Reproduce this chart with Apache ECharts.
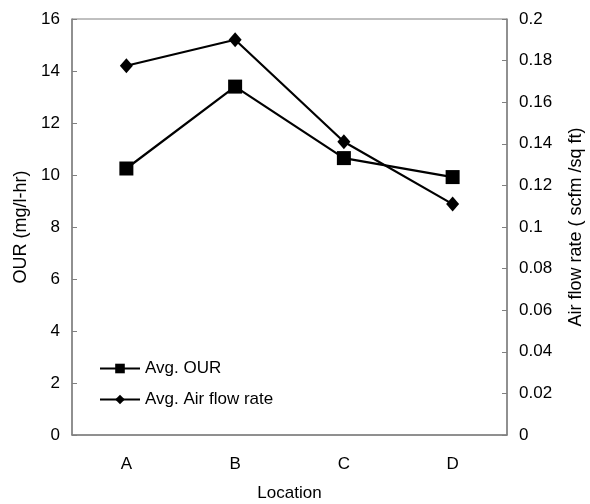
<!DOCTYPE html>
<html>
<head>
<meta charset="utf-8">
<script src="https://cdn.jsdelivr.net/npm/echarts@6/dist/echarts.min.js"></script>
</head>
<body style="margin:0;background:#fff">
<div id="main" style="width:590px;height:504px;"></div>
<script>
var locations = ['A', 'B', 'C', 'D'];
var avgOUR = [10.25, 13.4, 10.65, 9.92];
var avgAirFlow = [0.1775, 0.19, 0.141, 0.111];

var chart = echarts.init(document.getElementById('main'));
var axisGray = '#808080';
var font = 'Liberation Sans';

var option = {
    backgroundColor: '#fff',
    animation: false,
    textStyle: { fontFamily: font },
    grid: {
        left: 72, right: 83, top: 19, bottom: 69,
        outerBoundsMode: 'none',
        containLabel: false,
        show: true, borderColor: axisGray, borderWidth: 1
    },
    legend: {
        orient: 'vertical',
        left: 94, top: 355,
        itemWidth: 40, itemHeight: 12, itemGap: 14,
        textStyle: { fontSize: 17, color: '#000', fontFamily: font },
        data: ['Avg. OUR', 'Avg. Air flow rate']
    },
    xAxis: {
        type: 'category',
        data: locations,
        name: 'Location',
        nameLocation: 'middle',
        nameGap: 50,
        nameTextStyle: { fontSize: 17, color: '#000' },
        axisLine: { lineStyle: { color: axisGray, width: 1.5 } },
        axisTick: { inside: true, length: 5, lineStyle: { color: axisGray } },
        axisLabel: { fontSize: 17, color: '#000', margin: 21 }
    },
    yAxis: [{
        type: 'value',
        min: 0, max: 16, interval: 2,
        name: 'OUR (mg/l-hr)',
        nameLocation: 'middle',
        nameGap: 34,
        nameTextStyle: { fontSize: 18, color: '#000' },
        axisLine: { show: true, lineStyle: { color: axisGray, width: 1.5 } },
        axisTick: { show: true, inside: true, length: 5, lineStyle: { color: axisGray } },
        axisLabel: { fontSize: 17, color: '#000', margin: 12 },
        splitLine: { show: false }
    }, {
        type: 'value',
        min: 0, max: 0.2, interval: 0.02,
        name: 'Air flow rate ( scfm /sq ft)',
        nameLocation: 'middle',
        nameGap: 60,
        nameRotate: 90,
        nameTextStyle: { fontSize: 18, color: '#000' },
        axisLine: { show: true, lineStyle: { color: axisGray, width: 1.5 } },
        axisTick: { show: true, inside: true, length: 5, lineStyle: { color: axisGray } },
        axisLabel: { fontSize: 17, color: '#000', margin: 12 },
        splitLine: { show: false }
    }],
    series: [{
        name: 'Avg. OUR',
        type: 'line',
        data: avgOUR,
        yAxisIndex: 0,
        symbol: 'rect',
        symbolSize: 14,
        itemStyle: { color: '#000' },
        lineStyle: { color: '#000', width: 2.2 }
    }, {
        name: 'Avg. Air flow rate',
        type: 'line',
        data: avgAirFlow,
        yAxisIndex: 1,
        symbol: 'diamond',
        symbolSize: [13, 15],
        itemStyle: { color: '#000' },
        lineStyle: { color: '#000', width: 2.2 }
    }]
};

chart.setOption(option);
</script>
</body>
</html>
